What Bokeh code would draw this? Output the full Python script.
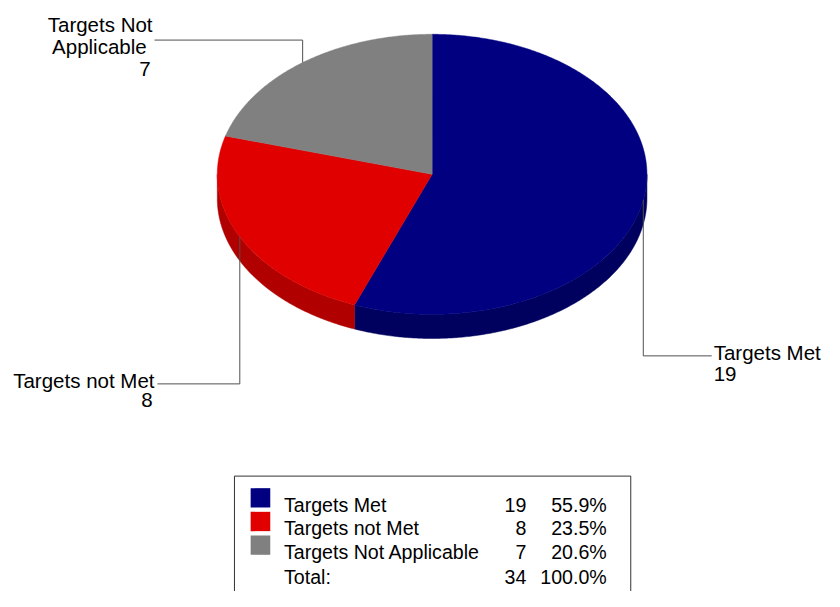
import math
from bokeh.plotting import figure
from bokeh.models import Range1d
from bokeh.core.properties import value
from bokeh.embed import file_html
from bokeh.resources import INLINE

# ---------------- data ----------------
categories = ["Targets Met", "Targets not Met", "Targets Not Applicable"]
counts = [19, 8, 7]
pie_label_lines = [["Targets Met"], ["Targets not Met"], ["Targets Not", "Applicable"]]
total_label = "Total:"

# ---------------- styles ----------------
top_colors = ["#000080", "#e00000", "#808080"]
side_colors = ["#00005e", "#b00000", "#606060"]
FONT = value("Liberation Sans")

W, H = 824, 591
p = figure(width=W, height=H, x_range=Range1d(0, 840), y_range=Range1d(612, 0),
           output_backend="svg", toolbar_location=None, min_border=0,
           x_axis_location=None, y_axis_location=None)
p.grid.visible = False
p.outline_line_color = None
p.background_fill_color = "white"
p.border_fill_color = "white"

# ---------------- pie geometry ----------------
cx, cy, rx, ry, depth = 440, 180, 219, 145, 25
total = sum(counts)
starts, ends = [], []
acc = 0.0
for c in counts:
    starts.append(acc / total * 360.0)
    acc += c
    ends.append(acc / total * 360.0)


def pt(theta):
    t = math.radians(theta)
    return cx + rx * math.sin(t), cy - ry * math.cos(t)


def arc(a0, a1):
    n = max(2, int(abs(a1 - a0) * 2))
    return [pt(a0 + (a1 - a0) * k / n) for k in range(n + 1)]


# side walls (front half only)
sx, sy, sc = [], [], []
for a0, a1, col in zip(starts, ends, side_colors):
    s0, s1 = max(a0, 90.0), min(a1, 270.0)
    if s1 > s0:
        top = arc(s0, s1)
        xs = [q[0] for q in top] + [q[0] for q in reversed(top)]
        ys = [q[1] for q in top] + [q[1] + depth for q in reversed(top)]
        sx.append(xs); sy.append(ys); sc.append(col)
p.patches(sx, sy, fill_color=sc, line_color=sc, line_width=0.5)

# top faces
tx, ty = [], []
for a0, a1 in zip(starts, ends):
    pts = arc(a0, a1)
    tx.append([cx] + [q[0] for q in pts])
    ty.append([cy] + [q[1] for q in pts])
p.patches(tx, ty, fill_color=top_colors, line_color=top_colors, line_width=0.5)

# ---------------- leader lines + labels ----------------
leader_y = [368, 397, 41]
leader_end_x = [725, 160, 157]
lx, ly = [], []
for a0, a1, yy, ex in zip(starts, ends, leader_y, leader_end_x):
    mx, my = pt((a0 + a1) / 2)
    lx.append([mx, mx, ex]); ly.append([my, yy, yy])
p.multi_line(lx, ly, line_color="#505050", line_width=1)

LBL = "20.5px"
# Targets Met (right side, left aligned)
p.text(x=[727, 727], y=[365, 387], text=[pie_label_lines[0][0], str(counts[0])],
       text_font=FONT, text_font_size=LBL, text_color="black",
       text_align="left", text_baseline="alphabetic")
# Targets not Met (left, right aligned)
p.text(x=[157, 155], y=[393, 414], text=[pie_label_lines[1][0], str(counts[1])],
       text_font=FONT, text_font_size=LBL, text_color="black",
       text_align="right", text_baseline="alphabetic")
# Targets Not Applicable (top left, right aligned)
p.text(x=[155, 149, 153], y=[25, 48, 71],
       text=[pie_label_lines[2][0], pie_label_lines[2][1], str(counts[2])],
       text_font=FONT, text_font_size=LBL, text_color="black",
       text_align="right", text_baseline="alphabetic")

# ---------------- legend table ----------------
p.quad(left=[238.5], right=[642.5], top=[492.5], bottom=[640],
       fill_color="white", line_color="#333333", line_width=1)

row_top = [505, 529.5, 554]
row_base = [522, 546.5, 571, 597]
p.quad(left=[255] * 3, right=[275] * 3, top=row_top, bottom=[t + 20 for t in row_top],
       fill_color=top_colors, line_color=None)

LEG = "19.6px"
pcts = ["%.1f%%" % (100.0 * c / total) for c in counts] + ["%.1f%%" % 100.0]
p.text(x=[289] * 4, y=row_base, text=categories + [total_label],
       text_font=FONT, text_font_size=LEG, text_color="black",
       text_align="left", text_baseline="alphabetic")
p.text(x=[536] * 4, y=row_base, text=[str(c) for c in counts] + [str(total)],
       text_font=FONT, text_font_size=LEG, text_color="black",
       text_align="right", text_baseline="alphabetic")
p.text(x=[618] * 4, y=row_base, text=pcts,
       text_font=FONT, text_font_size=LEG, text_color="black",
       text_align="right", text_baseline="alphabetic")

open("out.html", "w").write(file_html(p, INLINE))
